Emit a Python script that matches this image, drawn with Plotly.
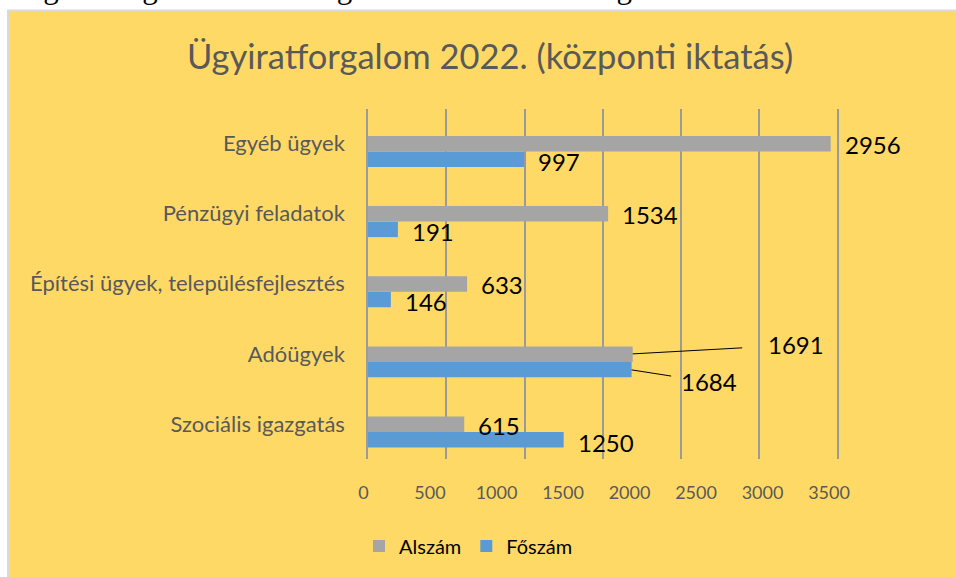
import plotly.graph_objects as go

# ---- data ----
categories = ["Szociális igazgatás", "Adóügyek", "Építési ügyek, településfejlesztés",
              "Pénzügyi feladatok", "Egyéb ügyek"]
alszam = [615, 1691, 633, 1534, 2956]
foszam = [1250, 1684, 146, 191, 997]
x_ticks = [0, 500, 1000, 1500, 2000, 2500, 3000, 3500]

title_text = "Ügyiratforgalom 2022. (központi iktatás)"
top_text = "Az ügyiratforgalom ágazat szerinti tagozódása az alábbi diagramon kerül bemutatásra."

# ---- layout geometry ----
W, H = 956, 577
L, R, T, B = 360, 40, 109, 118
PW, PH = W - L - R, H - T - B


def fx(px):
    return (px - L) / PW


def fy(py):
    return (H - B - py) / PH


FONT = "Lato, 'Open Sans', sans-serif"
GRAY_TXT = "#595959"
GRID = "#9A9A9A"
VAL_FONT = dict(family=FONT, size=24, color="black")

fig = go.Figure()
fig.add_trace(go.Bar(name="Főszám", y=categories, x=foszam, orientation="h",
                     marker=dict(color="#5B9BD5", line=dict(width=0)),
                     xaxis="x", yaxis="y"))
fig.add_trace(go.Bar(name="Alszám", y=categories, x=alszam, orientation="h",
                     marker=dict(color="#A5A5A5", line=dict(width=0)),
                     xaxis="x", yaxis="y"))
# invisible helper trace so the tick-label axis is rendered
fig.add_trace(go.Scatter(x=x_ticks, y=[categories[0]] * len(x_ticks), mode="markers",
                         marker=dict(opacity=0), xaxis="x2", yaxis="y",
                         showlegend=False, hoverinfo="skip"))

annotations = []
for i, cat in enumerate(categories):
    if cat == "Adóügyek":
        annotations.append(dict(x=alszam[i], y=cat, xref="x", yref="y", text=str(alszam[i]),
                                showarrow=True, arrowhead=0, arrowwidth=1, arrowcolor="black",
                                ax=163, ay=-9, yshift=8, startstandoff=24, font=VAL_FONT))
        annotations.append(dict(x=foszam[i], y=cat, xref="x", yref="y", text=str(foszam[i]),
                                showarrow=True, arrowhead=0, arrowwidth=1, arrowcolor="black",
                                ax=77, ay=12, yshift=-8, startstandoff=8, font=VAL_FONT))
    else:
        annotations.append(dict(x=alszam[i], y=cat, xref="x", yref="y", text=str(alszam[i]),
                                showarrow=False, xanchor="left", yanchor="middle",
                                xshift=12, yshift=7, font=VAL_FONT))
        annotations.append(dict(x=foszam[i], y=cat, xref="x", yref="y", text=str(foszam[i]),
                                showarrow=False, xanchor="left", yanchor="middle",
                                xshift=12, yshift=-10, font=VAL_FONT))

annotations.append(dict(x=fx(-126), y=fy(7.5), xref="paper", yref="paper", text=top_text,
                        showarrow=False, xanchor="left", yanchor="bottom",
                        font=dict(family="'Liberation Serif', 'Times New Roman', serif",
                                  size=31, color="black")))

fig.update_layout(
    width=W, height=H,
    margin=dict(l=L, r=R, t=T, b=B, pad=0),
    paper_bgcolor="white",
    plot_bgcolor="rgba(0,0,0,0)",
    barmode="group", bargap=0.558, bargroupgap=0,
    title=dict(text=title_text, x=490 / W, xref="container", xanchor="center",
               y=1 - 57 / H, yref="container", yanchor="middle",
               font=dict(family=FONT, size=34.5, color=GRAY_TXT)),
    xaxis=dict(domain=[fx(368), 1], range=[0, 3501], anchor="y",
               showgrid=True, gridcolor=GRID, gridwidth=1.5,
               tickvals=x_ticks, showticklabels=False, zeroline=False,
               showline=False, ticks=""),
    xaxis2=dict(domain=[fx(363.5), fx(829)], range=[0, 3500], anchor="y",
                showgrid=False, zeroline=False, showline=False, ticks="",
                tickvals=x_ticks, ticklabelstandoff=21,
                tickfont=dict(family=FONT, size=18, color=GRAY_TXT)),
    yaxis=dict(type="category", categoryorder="array", categoryarray=categories,
               range=[-0.385, 4.606], anchor="x", showgrid=False,
               showline=True, linecolor=GRID, linewidth=1.5, ticks="",
               ticklabelstandoff=17, ticklabelshift=-8,
               tickfont=dict(family=FONT, size=22, color=GRAY_TXT)),
    legend=dict(orientation="h", traceorder="reversed", x=fx(359), y=fy(546),
                xanchor="left", yanchor="middle", bgcolor="rgba(0,0,0,0)",
                font=dict(family=FONT, size=20, color="black")),
    annotations=annotations,
    shapes=[dict(type="rect", xref="paper", yref="paper", x0=fx(8), x1=fx(965),
                 y0=fy(10.5), y1=fy(585), fillcolor="#FFD966",
                 line=dict(color="#D9D9D9", width=2), layer="below")],
    showlegend=True,
    hovermode=False,
)

fig.write_html("out.html", config={"displayModeBar": False},
               post_script="document.body.style.margin='0';")
